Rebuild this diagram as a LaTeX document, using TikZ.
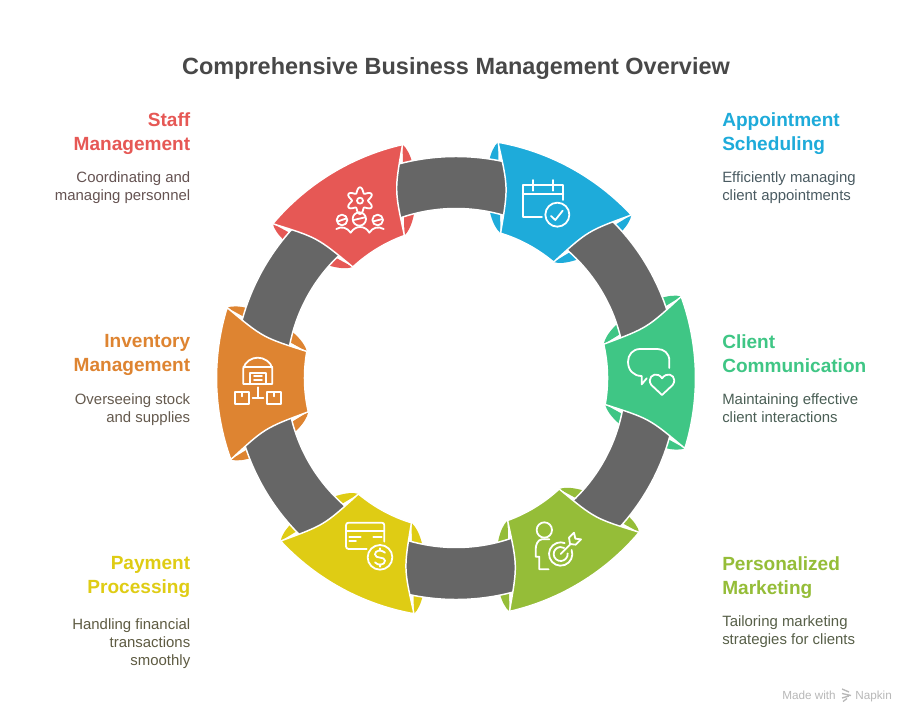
\documentclass[tikz,border=0pt]{standalone}
\usepackage{fontspec}
\setmainfont{Liberation Sans}
\definecolor{cblue}{HTML}{1EABDA}
\definecolor{cgreen}{HTML}{3FC685}
\definecolor{clime}{HTML}{95BD38}
\definecolor{cyell}{HTML}{DFCC14}
\definecolor{corange}{HTML}{DE8431}
\definecolor{cred}{HTML}{E65855}
\definecolor{cband}{HTML}{666666}
\definecolor{ctitle}{HTML}{484848}
\definecolor{tblue}{HTML}{4A5B62}
\definecolor{tgreen}{HTML}{4A5F55}
\definecolor{tlime}{HTML}{575F48}
\definecolor{tyell}{HTML}{5E5B42}
\definecolor{torange}{HTML}{655A4E}
\definecolor{tred}{HTML}{655352}
\definecolor{cmark}{HTML}{B8B8B8}
\tikzset{
  ic/.style={draw=white,line width=1.35pt,line cap=round,line join=round},
  zoomA/.style={shift={(480,-130)},x=.25pt,y=-.25pt},
  zoomB/.style={shift={(210,-130)},x=.25pt,y=-.25pt},
  zoomC/.style={shift={(270,-440)},x=.25pt,y=-.25pt},
  titletext/.style={font=\bfseries\fontsize{17.6}{22}\selectfont,text=ctitle,inner sep=0pt},
  headtext/.style={font=\bfseries\fontsize{14.3}{18}\selectfont,inner sep=0pt},
  bodytext/.style={font=\fontsize{11.2}{13.5}\selectfont,inner sep=0pt},
  rhead/.style={headtext,anchor=north west,align=left},
  lhead/.style={headtext,anchor=north east,align=right},
  rbody/.style={bodytext,anchor=north west,align=left},
  lbody/.style={bodytext,anchor=north east,align=right},
}
\begin{document}
\begin{tikzpicture}[x=.75pt,y=.75pt]
\useasboundingbox (0,0) rectangle (912,-720);
\fill[white] (0,0) rectangle (912,-720);
\coordinate (c) at (456,-378);
% flaps
\foreach \a/\col in {28.6/cblue,88.6/cgreen,148.6/clime,208.6/cyell,268.6/corange,328.6/cred}{
  \begin{scope}[shift={(c)},rotate=-\a]
    \fill[\col] (76,227.1) .. controls (83,206) and (52,153) .. (30.2,148.5) -- cycle;
    \fill[\col] (-76,227.1) .. controls (-83,206) and (-52,153) .. (-30.2,148.5) -- cycle;
  \end{scope}
}
% ring
\path[fill=cband,draw=white,line width=1.1pt,even odd rule] (c) circle[radius=221.5] (c) circle[radius=169.5];
% pieces
\foreach \a/\col in {28.6/cblue,88.6/cgreen,148.6/clime,208.6/cyell,268.6/corange,328.6/cred}{
  \begin{scope}[shift={(c)},rotate=-\a]
    \path[fill=\col,draw=white,line width=1.1pt,line join=miter]
      (-76,227.1) arc[start angle=108.5,end angle=71.5,radius=239.5]
      .. controls (45.3,192.3) .. (30.2,148.5)
      arc[start angle=78.5,end angle=101.5,radius=151.5]
      .. controls (-45.3,192.3) .. (-76,227.1) -- cycle;
  \end{scope}
}
% calendar icon
\begin{scope}[zoomA]
  \draw[ic] (186,260) -- (128,260) -- (128,165) -- (250,165) -- (250,210);
  \draw[ic] (128,192) -- (250,192);
  \draw[ic] (160,150) -- (160,182);
  \draw[ic] (218,150) -- (218,182);
  \draw[ic] (232,254) circle[radius=36];
  \draw[ic] (213,258) -- (226,270) -- (248,242);
\end{scope}
% speech and heart icon
\begin{scope}[zoomA]
  \draw[ic] (568,714) -- (568,692) .. controls (568,670) and (552,657) .. (532,657) -- (480,657)
    .. controls (458,657) and (444,675) .. (444,695) .. controls (444,720) and (460,738) .. (485,738)
    -- (485,763) -- (500,745);
  \draw[ic] (546,795) -- (514,765) .. controls (500,745) and (520,728) .. (535,735)
    .. controls (540,737) and (544,741) .. (546,745) .. controls (549,741) and (553,737) .. (558,735)
    .. controls (573,728) and (592,745) .. (578,765) -- cycle;
\end{scope}
% target icon
\begin{scope}[zoomC]
  \draw[ic] (823,270) circle[radius=23];
  \draw[ic] (838,298) -- (815,298) .. controls (802,300) and (797,315) .. (797,330) -- (797,350) -- (808,350) -- (808,388) -- (836,388);
  \draw[ic] (872,342) ++(-20:35) arc[start angle=-20,end angle=290,radius=35];
  \draw[ic] (872,342) ++(-5:21) arc[start angle=-5,end angle=300,radius=21];
  \draw[ic] (872,342) -- (902,312);
  \draw[ic] (900,312) -- (897,293) -- (912,278) -- (916,296) -- (933,298) -- (917,314) -- cycle;
\end{scope}
% card icon
\begin{scope}[zoomC]
  \draw[ic] (290,327) -- (236,327) .. controls (231,327) and (228,324) .. (228,319) -- (228,256)
    .. controls (228,251) and (231,248) .. (236,248) -- (335,248)
    .. controls (340,248) and (343,251) .. (343,256) -- (343,305);
  \draw[ic] (228,272) -- (343,272);
  \draw[ic] (238,290) -- (272,290);
  \draw[ic] (310,290) -- (335,290);
  \draw[ic] (238,303) -- (258,303);
  \draw[ic] (330,352) circle[radius=37];
  \draw[ic] (345,338) .. controls (335,328) and (315,330) .. (315,343) .. controls (315,358) and (345,348) .. (345,362)
    .. controls (345,376) and (323,378) .. (315,367);
  \draw[ic] (330,325) -- (330,332);
  \draw[ic] (330,373) -- (330,380);
\end{scope}
% warehouse icon
\begin{scope}[zoomB]
  \draw[ic] (100,762) -- (100,715) .. controls (105,695) and (125,683) .. (143,683)
    .. controls (162,683) and (182,695) .. (187,715) -- (187,762) -- cycle;
  \draw[ic] (100,712) -- (187,712);
  \draw[ic] (120,762) -- (120,728) -- (168,728) -- (168,762);
  \draw[ic] (132,738) -- (156,738);
  \draw[ic] (132,750) -- (156,750);
  \draw[ic] (74,787) rectangle (118,822);
  \draw[ic] (170,787) rectangle (214,822);
  \draw[ic] (96,787) -- (96,799);
  \draw[ic] (192,787) -- (192,799);
  \draw[ic] (143,772) -- (143,803);
  \draw[ic] (128,803) -- (160,803);
\end{scope}
% staff icon
\begin{scope}[zoomB]
  \draw[ic] plot[smooth cycle,samples=72,domain=0:355] ({450+(32-8*cos(6*\x))*cos(\x)},{212+(32-8*cos(6*\x))*sin(\x)});
  \draw[ic] (450,212) circle[radius=9];
  \draw[ic] (396,270) circle[radius=16];
  \draw[ic] (448,267) circle[radius=20];
  \draw[ic] (503,270) circle[radius=16];
  \draw[ic] (384,274) -- (407,266);
  \draw[ic] (431,270) -- (465,262);
  \draw[ic] (490,274) -- (514,268);
  \draw[ic] (379,297) .. controls (395,288) and (410,292) .. (422,308)
    .. controls (430,296) and (440,291) .. (450,291)
    .. controls (462,291) and (472,297) .. (478,308)
    .. controls (488,292) and (505,288) .. (521,297);
\end{scope}
% title
\node[titletext,anchor=base] (title) at (456,-75) {Comprehensive Business Management Overview};
% right texts
\node[rhead,text=cblue] (h1) at (722,-112) {Appointment\\Scheduling};
\node[rbody,text=tblue] (b1) at (722,-171) {Efficiently managing\\client appointments};
\node[rhead,text=cgreen] (h2) at (722,-334) {Client\\Communication};
\node[rbody,text=tgreen] (b2) at (722,-393) {Maintaining effective\\client interactions};
\node[rhead,text=clime] (h3) at (722,-556) {Personalized\\Marketing};
\node[rbody,text=tlime] (b3) at (722,-615) {Tailoring marketing\\strategies for clients};
% left texts
\node[lhead,text=cred] (h6) at (190.5,-112) {Staff\\Management};
\node[lbody,text=tred] (b6) at (190.5,-171) {Coordinating and\\managing personnel};
\node[lhead,text=corange] (h5) at (190.5,-334) {Inventory\\Management};
\node[lbody,text=torange] (b5) at (190.5,-393) {Overseeing stock\\and supplies};
\node[lhead,text=cyell] (h4) at (190.5,-556) {Payment\\Processing};
\node[lbody,text=tyell] (b4) at (190.5,-618) {Handling financial\\transactions\\smoothly};
% watermark
\node[font=\fontsize{8.8}{10}\selectfont,text=cmark,anchor=base west,inner sep=0pt] (m1) at (782,-699) {Made with};
\node[font=\fontsize{8.8}{10}\selectfont,text=cmark,anchor=base west,inner sep=0pt] (m2) at (855,-699) {Napkin};
\draw[cmark,line width=1pt] (842,-689) -- (849,-692) (842,-693.5) -- (851,-695.5) (842,-698) -- (849,-696) (843,-701.5) -- (847,-698.5);
\end{tikzpicture}
\end{document}
